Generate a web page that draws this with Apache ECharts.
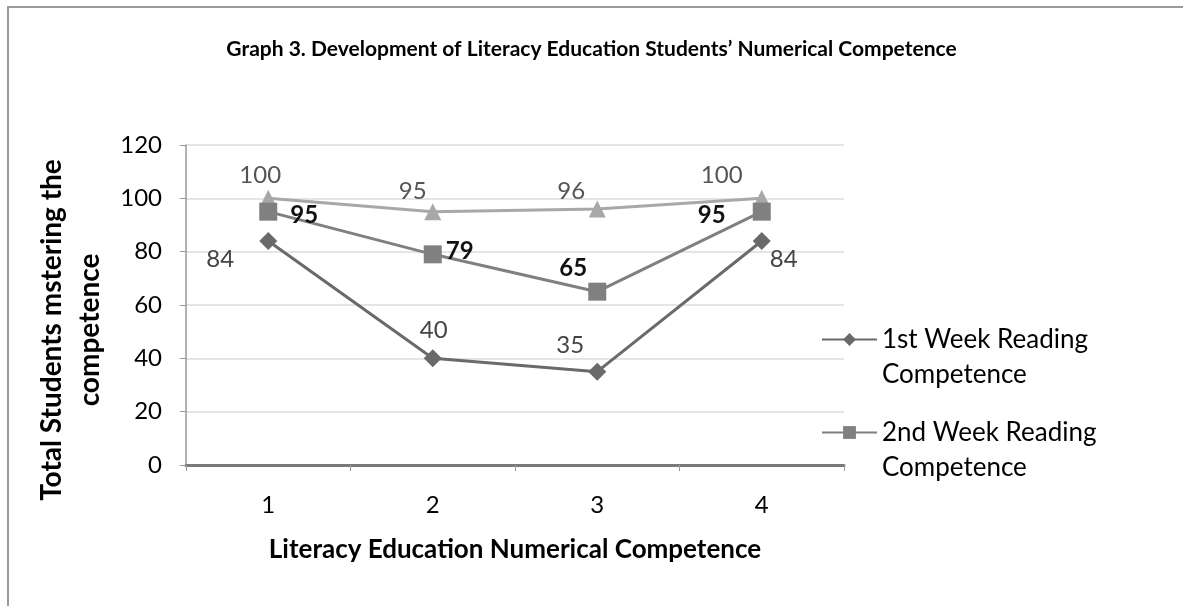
<!DOCTYPE html>
<html><head><meta charset="utf-8">
<script src="https://cdn.jsdelivr.net/npm/echarts@6/dist/echarts.min.js"></script>
<style>html,body{margin:0;padding:0;background:#fff}#c{width:1183px;height:606px}</style>
</head><body><div id="c"></div>
<script>
const categories = ['1', '2', '3', '4'];
const week1 = [84, 40, 35, 84];
const week2 = [95, 79, 65, 95];
const week3 = [100, 95, 96, 100];
const seriesNames = ['1st Week Reading Competence', '2nd Week Reading Competence', '3rd Week Reading Competence'];
const yTicks = [0, 20, 40, 60, 80, 100, 120];

// label offsets (style only)
const off1 = [[-48, 18], [1, -28], [-27, -26], [22, 18]];
const off2 = [[36, 4], [27, -3], [-24, -23], [-50, 4]];
const off3 = [[-8, -23], [-20, -20], [-26, -18], [-40, -23]];

const FONT = 'Lato';
function items(vals, offs) {
  return vals.map((v, i) => ({ value: v, label: { offset: offs[i] } }));
}
const chart = echarts.init(document.getElementById('c'));
chart.setOption({
  backgroundColor: '#fff',
  animation: false,
  textStyle: { fontFamily: FONT },
  title: {
    text: 'Graph 3. Development of Literacy Education Students\u2019 Numerical Competence',
    left: 'center', top: 34,
    textStyle: { fontFamily: FONT, fontWeight: 'bold', fontSize: 21, color: '#000' }
  },
  graphic: [{
    type: 'rect', shape: { x: 8, y: 7, width: 1200, height: 640 },
    style: { fill: 'none', stroke: '#9a9a9a', lineWidth: 2 }, silent: true, z: -1
  }],
  legend: {
    orient: 'vertical', left: 816, top: 282,
    data: [seriesNames[0], seriesNames[1]],
    itemWidth: 55, itemHeight: 16, itemGap: -12,
    formatter: n => '\n' + n.replace(' Competence', '\nCompetence'),
    textStyle: { fontFamily: FONT, fontSize: 26, color: '#000', lineHeight: 35 }
  },
  grid: { left: 186, right: 339, top: 145, bottom: 141 },
  xAxis: {
    type: 'category', data: categories, boundaryGap: true,
    name: 'Literacy Education Numerical Competence', nameLocation: 'middle', nameGap: 72,
    nameTextStyle: { fontFamily: FONT, fontWeight: 'bold', fontSize: 26, color: '#000' },
    axisLine: { lineStyle: { color: '#7a7a7a', width: 3 } },
    axisTick: { show: true, length: 6, lineStyle: { color: '#999', width: 1 } },
    axisLabel: { fontFamily: FONT, fontSize: 24, color: '#000', margin: 28 }
  },
  yAxis: {
    type: 'value', min: 0, max: 120, interval: 20,
    name: 'Total Students mstering the\ncompetence', nameLocation: 'middle', nameGap: 60,
    nameTextStyle: { fontFamily: FONT, fontWeight: 'bold', fontSize: 28, color: '#000', lineHeight: 38, padding: [0, 50, 0, 0] },
    axisLine: { show: true, lineStyle: { color: '#999', width: 1.5 } },
    axisTick: { show: true, length: 6, lineStyle: { color: '#999' } },
    splitLine: { lineStyle: { color: '#dcdcdc', width: 1.5 } },
    axisLabel: { fontFamily: FONT, fontSize: 24, color: '#000', margin: 24,
      formatter: v => yTicks.includes(v) ? String(v) : '' }
  },
  series: [
    {
      name: seriesNames[2], type: 'line', data: items(week3, off3),
      symbol: 'triangle', symbolSize: 17, z: 2,
      lineStyle: { color: '#a8a8a8', width: 3 }, itemStyle: { color: '#a8a8a8' },
      label: { show: true, position: 'inside', fontFamily: FONT, fontSize: 24, color: '#555' }
    },
    {
      name: seriesNames[1], type: 'line', data: items(week2, off2),
      symbol: 'rect', symbolSize: 18, z: 3,
      lineStyle: { color: '#808080', width: 3 }, itemStyle: { color: '#808080' },
      label: { show: true, position: 'inside', fontFamily: FONT, fontSize: 24, color: '#111', fontWeight: 'bold' }
    },
    {
      name: seriesNames[0], type: 'line', data: items(week1, off1),
      symbol: 'diamond', symbolSize: 18, z: 4,
      lineStyle: { color: '#6a6a6a', width: 3 }, itemStyle: { color: '#6a6a6a' },
      label: { show: true, position: 'inside', fontFamily: FONT, fontSize: 24, color: '#444' }
    }
  ]
});
</script></body></html>
